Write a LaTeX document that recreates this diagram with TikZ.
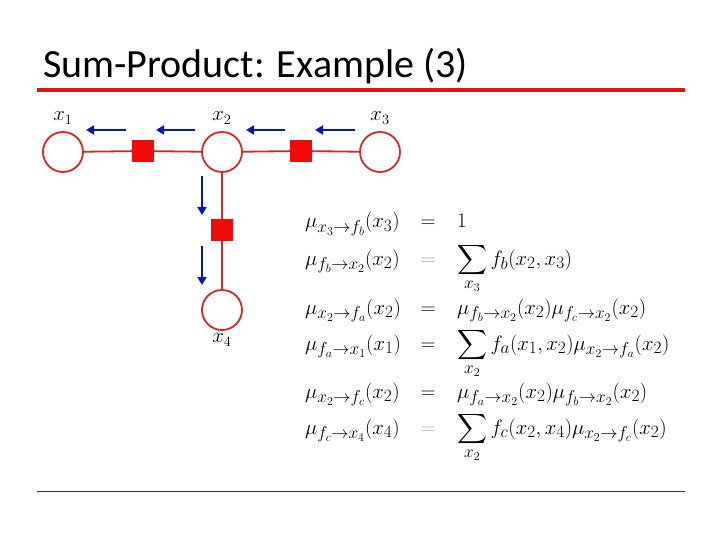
\documentclass[tikz,border=0pt]{standalone}
\usepackage{amsmath}
\usepackage{fontspec}
\newfontfamily\titlefont{Carlito}
\usetikzlibrary{arrows.meta}
\DeclareMathSizes{22}{22}{16}{13}
\DeclareMathSizes{20}{20}{15}{12}
\definecolor{titlered}{RGB}{224,20,20}
\definecolor{edgered}{RGB}{210,40,40}
\definecolor{facred}{RGB}{240,10,10}
\definecolor{arrblue}{RGB}{10,20,190}
\tikzset{
  var/.style={circle, draw=edgered, line width=1.8pt, fill=white, minimum size=40pt, inner sep=0pt},
  fac/.style={rectangle, fill=facred, draw=facred, minimum size=21pt, inner sep=0pt},
  edge/.style={draw=edgered, line width=1.8pt},
  msg/.style={draw=arrblue, line width=1.8pt, -{Triangle[length=8pt,width=9pt]}},
  lbl/.style={font=\fontsize{20}{24}\selectfont, inner sep=0pt},
  eqn/.style={font=\fontsize{22}{26}\selectfont, inner sep=0pt, anchor=base west},
  eqs/.style={font=\fontsize{22}{26}\selectfont, inner sep=0pt, anchor=base},
}
\begin{document}
\begin{tikzpicture}[x=1pt,y=-1pt]
\useasboundingbox (0,0) rectangle (720,540);
% title
\node[anchor=base west, inner sep=0pt, font=\titlefont\fontsize{40}{44}\selectfont] (title) at (43,78) {Sum-Product: Example (3)};
\draw[titlered, line width=4.5pt] (37,90) -- (685,90);
\draw[black!80, line width=0.8pt] (37,491) -- (685,491);
% graph
\node[var] (x1) at (63,152) {};
\node[var] (x2) at (222,152) {};
\node[var] (x3) at (380,152) {};
\node[var] (x4) at (222,310) {};
\node[fac] (fa) at (143,151) {};
\node[fac] (fb) at (301,151) {};
\node[fac] (fc) at (222,230) {};
\draw[edge] (x1) -- (fa) -- (x2) -- (fb) -- (x3);
\draw[edge] (x2) -- (fc) -- (x4);
\node[lbl] (l1) at (63,118) {$x_1$};
\node[lbl] (l2) at (222,118) {$x_2$};
\node[lbl] (l3) at (380,118) {$x_3$};
\node[lbl] (l4) at (222,340) {$x_4$};
% message arrows
\coordinate (a1s) at (126,130); \coordinate (a1e) at (86,130);
\coordinate (a2s) at (195,130); \coordinate (a2e) at (156,130);
\coordinate (a3s) at (285,130); \coordinate (a3e) at (246,130);
\coordinate (a4s) at (355,130); \coordinate (a4e) at (315,130);
\coordinate (a5s) at (202,176); \coordinate (a5e) at (202,215);
\coordinate (a6s) at (202,246); \coordinate (a6e) at (202,285);
\draw[msg] (a1s) -- (a1e);
\draw[msg] (a2s) -- (a2e);
\draw[msg] (a3s) -- (a3e);
\draw[msg] (a4s) -- (a4e);
\draw[msg] (a5s) -- (a5e);
\draw[msg] (a6s) -- (a6e);
% equations
\node[eqn] (e1l) at (305,228) {$\mu_{x_3\to f_b}(x_3)$};
\node[eqs] (e1e) at (428,228) {$=$};
\node[eqn] (e1r) at (457,228) {$1$};
\node[eqn] (e2l) at (305,265) {$\mu_{f_b\to x_2}(x_2)$};
\node[eqs, text=black!35] (e2e) at (428,265) {$=$};
\node[eqn] (e2r) at (457,265) {$\displaystyle\sum_{x_3} f_b(x_2,x_3)$};
\node[eqn] (e3l) at (305,314) {$\mu_{x_2\to f_a}(x_2)$};
\node[eqs] (e3e) at (428,314) {$=$};
\node[eqn] (e3r) at (457,314) {$\mu_{f_b\to x_2}(x_2)\mu_{f_c\to x_2}(x_2)$};
\node[eqn] (e4l) at (305,350) {$\mu_{f_a\to x_1}(x_1)$};
\node[eqs] (e4e) at (428,350) {$=$};
\node[eqn] (e4r) at (457,350) {$\displaystyle\sum_{x_2} f_a(x_1,x_2)\mu_{x_2\to f_a}(x_2)$};
\node[eqn] (e5l) at (305,398) {$\mu_{x_2\to f_c}(x_2)$};
\node[eqs] (e5e) at (428,398) {$=$};
\node[eqn] (e5r) at (457,398) {$\mu_{f_a\to x_2}(x_2)\mu_{f_b\to x_2}(x_2)$};
\node[eqn] (e6l) at (305,434) {$\mu_{f_c\to x_4}(x_4)$};
\node[eqs, text=black!35] (e6e) at (428,434) {$=$};
\node[eqn] (e6r) at (457,434) {$\displaystyle\sum_{x_2} f_c(x_2,x_4)\mu_{x_2\to f_c}(x_2)$};
\end{tikzpicture}
\end{document}
